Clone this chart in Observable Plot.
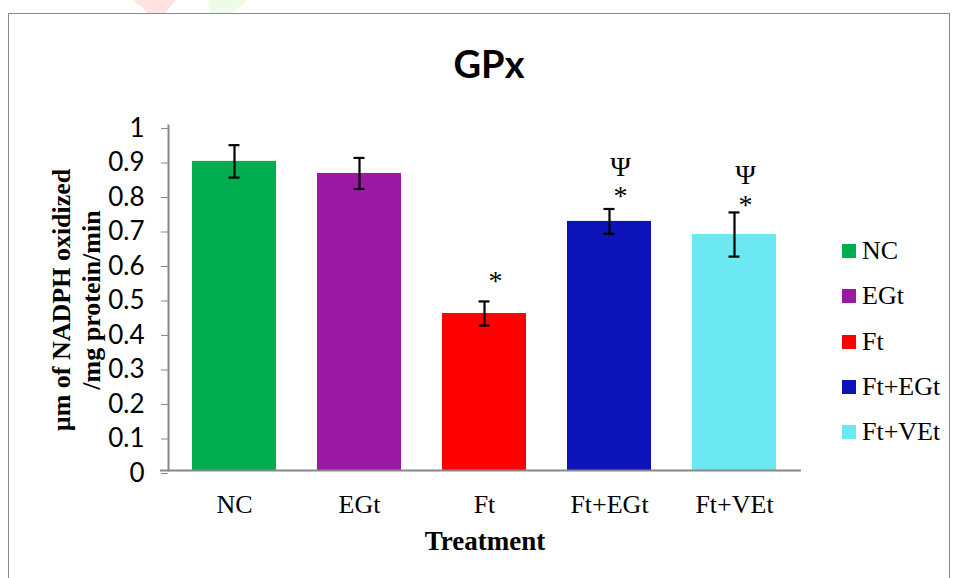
<!DOCTYPE html>
<html>
<head>
<meta charset="utf-8">
<script src="https://cdn.jsdelivr.net/npm/d3@7"></script>
<script src="https://cdn.jsdelivr.net/npm/@observablehq/plot@0.6"></script>
<style>
  body { margin: 0; background: white; }
  #wrap { position: relative; width: 956px; height: 578px; overflow: hidden; background: white; }
  #wrap svg { position: absolute; left: 0; top: 0; }
  .abs { position: absolute; white-space: nowrap; }
  .serif { font-family: "Liberation Serif", "Times New Roman", serif; color: #000; }
</style>
</head>
<body>
<div id="wrap"></div>
<script>
// ---- data ----
const categories = ["NC", "EGt", "Ft", "Ft+EGt", "Ft+VEt"];
const means = [0.896, 0.861, 0.455, 0.722, 0.684];
const errors = [0.047, 0.045, 0.035, 0.036, 0.064];
const colors = ["#00ad4f", "#9c19a6", "#ff0000", "#0c14b9", "#6ce8f3"];
const yTicks = [0, 0.1, 0.2, 0.3, 0.4, 0.5, 0.6, 0.7, 0.8, 0.9, 1];
const starCats = ["Ft", "Ft+EGt", "Ft+VEt"];
const starY = [0.559, 0.803, 0.777];
const psiCats = ["Ft+EGt", "Ft+VEt"];
const psiY = [0.887, 0.864];
const title = "GPx";
const xLabel = "Treatment";
const yLabelLines = ["µm of NADPH oxidized", "/mg protein/min"];

const rows = categories.map((c, i) => ({cat: c, mean: means[i], err: errors[i]}));
const stars = starCats.map((c, i) => ({cat: c, y: starY[i]}));
const psis = psiCats.map((c, i) => ({cat: c, y: psiY[i]}));

const wrap = document.getElementById("wrap");

const chart = Plot.plot({
  width: 956,
  height: 578,
  marginLeft: 168,
  marginRight: 155,
  marginTop: 125,
  marginBottom: 108,
  style: {background: "transparent", color: "#000"},
  x: {domain: categories, paddingInner: 0.325, paddingOuter: 0.175, label: null},
  y: {domain: [0, 1], label: null},
  color: {domain: categories, range: colors},
  marks: [
    Plot.barY(rows, {x: "cat", y: "mean", fill: "cat"}),
    Plot.ruleX(rows, {x: "cat", y1: d => d.mean - d.err, y2: d => d.mean + d.err, stroke: "#000", strokeWidth: 2.2}),
    Plot.tickY(rows, {x: "cat", y: d => d.mean + d.err, stroke: "#000", strokeWidth: 2.2, insetLeft: 36.5, insetRight: 36.5}),
    Plot.tickY(rows, {x: "cat", y: d => d.mean - d.err, stroke: "#000", strokeWidth: 2.2, insetLeft: 36.5, insetRight: 36.5}),
    Plot.text(stars, {x: "cat", y: "y", text: () => "*", dx: 11, dy: 3, fontSize: 28, fontFamily: "Liberation Serif", fill: "#000"}),
    Plot.text(psis, {x: "cat", y: "y", text: () => "Ψ", dx: 11, dy: 3, fontSize: 28, fontFamily: "Liberation Serif", fill: "#000"}),
    Plot.axisY({ticks: yTicks, tickFormat: d => String(d), tickSize: 7, tickPadding: 17, stroke: "#888", fill: "#000", fontSize: 26, fontFamily: "Lato", dy: 3, label: null}),
    Plot.axisX({tickSize: 0, tickPadding: 24, fontSize: 26, fontFamily: "Liberation Serif", fill: "#000", label: null}),
    Plot.frame({anchor: "left", stroke: "#888", strokeWidth: 2}),
    Plot.ruleY([0], {stroke: "#888", strokeWidth: 2, insetLeft: -8, insetRight: 0})
  ]
});
wrap.appendChild(chart);

// decorative background blobs at top
const blob1 = document.createElement("div");
blob1.className = "abs";
Object.assign(blob1.style, {left: "133px", top: "0px", width: "43px", height: "13px", background: "#ffe3e3", clipPath: "polygon(0 0, 100% 0, 75% 100%, 35% 100%)"});
wrap.appendChild(blob1);
const blob2 = document.createElement("div");
blob2.className = "abs";
Object.assign(blob2.style, {left: "208px", top: "0px", width: "40px", height: "13px", background: "#effbe8", clipPath: "polygon(0 0, 100% 0, 60% 100%, 5% 100%)"});
wrap.appendChild(blob2);

// outer border
const border = document.createElement("div");
border.className = "abs";
Object.assign(border.style, {left: "8px", top: "13px", width: "940px", height: "700px", border: "1.5px solid #8a8a8a"});
wrap.appendChild(border);

// title
const t = document.createElement("div");
t.className = "abs";
t.textContent = title;
Object.assign(t.style, {left: "389px", width: "200px", top: "44px", textAlign: "center", fontFamily: "Lato", fontWeight: "bold", fontSize: "38px", lineHeight: "38px", color: "#000"});
wrap.appendChild(t);

// x label
const xl = document.createElement("div");
xl.className = "abs serif";
xl.textContent = xLabel;
Object.assign(xl.style, {left: "385px", width: "200px", top: "528px", textAlign: "center", fontWeight: "bold", fontSize: "27px", lineHeight: "27px"});
wrap.appendChild(xl);

// y label
const yCenters = [62, 92];
yLabelLines.forEach((s, i) => {
  const d = document.createElement("div");
  d.className = "abs serif";
  d.textContent = s;
  Object.assign(d.style, {left: yCenters[i] + "px", top: "300px", transform: "translate(-50%, -50%) rotate(-90deg)", fontWeight: "bold", fontSize: "26px", lineHeight: "26px"});
  wrap.appendChild(d);
});

// legend
categories.forEach((c, i) => {
  const top = 244 + i * 45.3;
  const sw = document.createElement("div");
  sw.className = "abs";
  Object.assign(sw.style, {left: "842px", top: top + "px", width: "14px", height: "14px", background: colors[i]});
  wrap.appendChild(sw);
  const lt = document.createElement("div");
  lt.className = "abs serif";
  lt.textContent = c;
  Object.assign(lt.style, {left: "862px", top: (top - 6) + "px", fontSize: "26px", lineHeight: "26px"});
  wrap.appendChild(lt);
});
</script>
</body>
</html>
